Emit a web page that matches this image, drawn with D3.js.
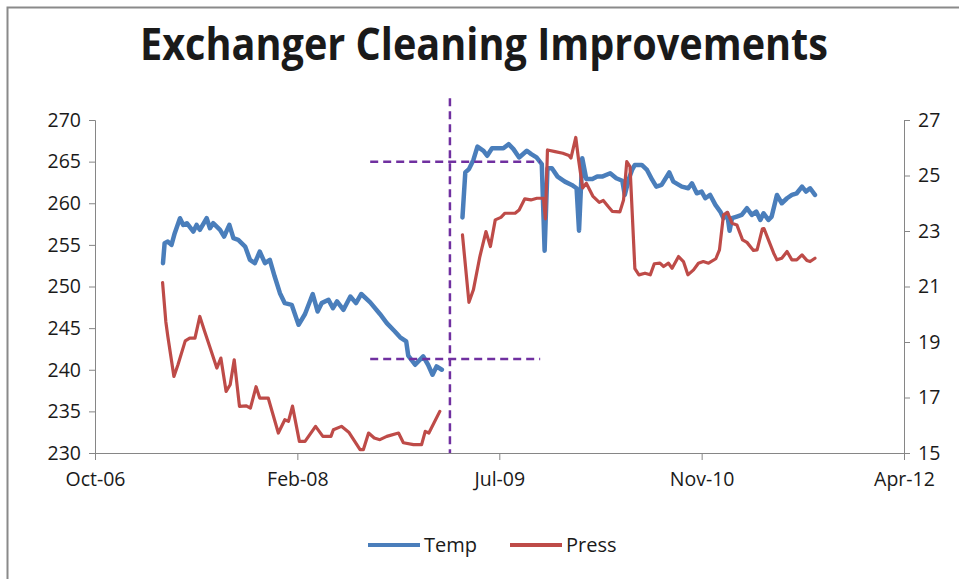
<!DOCTYPE html>
<html>
<head>
<meta charset="utf-8">
<script src="https://cdn.jsdelivr.net/npm/d3@7"></script>
<style>
  body { margin: 0; background: #fff; }
  text { font-family: 'Open Sans', sans-serif; fill: #1a1a1a; }
</style>
</head>
<body>
<div id="chart"></div>
<script>
// Data
const tempBefore = [
  ['2007-03-28', 252.8], ['2007-04-01', 255.2], ['2007-04-09', 255.4], ['2007-04-18', 255.0],
  ['2007-04-26', 256.4], ['2007-05-09', 258.2], ['2007-05-17', 257.4], ['2007-05-26', 257.6],
  ['2007-06-11', 256.6], ['2007-06-19', 257.4], ['2007-06-27', 256.8], ['2007-07-14', 258.2],
  ['2007-07-22', 257.0], ['2007-07-30', 257.6], ['2007-08-16', 256.8], ['2007-08-26', 256.0],
  ['2007-09-08', 257.4], ['2007-09-18', 255.8], ['2007-09-30', 255.6], ['2007-10-17', 254.8],
  ['2007-10-29', 253.2], ['2007-11-10', 252.8], ['2007-11-22', 254.2], ['2007-12-05', 252.8],
  ['2007-12-17', 253.2], ['2007-12-29', 251.2], ['2008-01-11', 249.2], ['2008-01-23', 248.0],
  ['2008-02-09', 247.8], ['2008-02-26', 245.4], ['2008-03-13', 246.7], ['2008-04-01', 249.1],
  ['2008-04-13', 247.0], ['2008-04-23', 248.0], ['2008-05-10', 248.4], ['2008-05-21', 247.4],
  ['2008-05-31', 248.2], ['2008-06-16', 247.2], ['2008-07-03', 248.8], ['2008-07-17', 248.0],
  ['2008-07-30', 249.1], ['2008-08-21', 248.1], ['2008-09-14', 246.7], ['2008-10-01', 245.6],
  ['2008-10-21', 244.6], ['2008-11-03', 243.9], ['2008-11-18', 243.4], ['2008-11-23', 241.7],
  ['2008-12-10', 240.6], ['2008-12-30', 241.6], ['2009-01-11', 240.6], ['2009-01-22', 239.4],
  ['2009-02-01', 240.4], ['2009-02-14', 240.0]
]
const tempAfter = [
  ['2009-04-06', 258.3], ['2009-04-13', 263.7], ['2009-04-22', 264.1], ['2009-05-03', 265.2],
  ['2009-05-13', 266.8], ['2009-05-28', 266.3], ['2009-06-06', 265.7], ['2009-06-18', 266.6],
  ['2009-07-04', 266.6], ['2009-07-16', 266.6], ['2009-07-29', 267.1], ['2009-08-10', 266.5],
  ['2009-08-24', 265.5], ['2009-09-12', 266.3], ['2009-09-23', 265.9], ['2009-10-06', 265.5],
  ['2009-10-19', 264.7], ['2009-10-26', 254.3], ['2009-11-02', 264.2], ['2009-11-13', 264.2],
  ['2009-11-27', 263.2], ['2009-12-15', 262.6], ['2010-01-01', 262.2], ['2010-01-13', 261.8],
  ['2010-01-19', 256.7], ['2010-01-27', 265.4], ['2010-02-06', 262.9], ['2010-02-21', 262.9],
  ['2010-03-05', 263.2], ['2010-03-17', 263.2], ['2010-04-06', 263.6], ['2010-04-21', 263.0],
  ['2010-05-06', 262.7], ['2010-05-12', 261.0], ['2010-05-22', 262.9], ['2010-05-30', 264.0],
  ['2010-06-06', 264.6], ['2010-06-23', 264.6], ['2010-07-06', 264.0], ['2010-07-19', 262.8],
  ['2010-07-29', 262.0], ['2010-08-11', 262.2], ['2010-08-30', 263.7], ['2010-09-09', 262.6],
  ['2010-09-30', 262.0], ['2010-10-16', 261.8], ['2010-10-25', 262.4], ['2010-11-06', 261.2],
  ['2010-11-18', 261.4], ['2010-11-27', 260.6], ['2010-12-09', 261.0], ['2010-12-22', 259.8],
  ['2011-01-03', 259.0], ['2011-01-11', 258.2], ['2011-01-20', 258.8], ['2011-01-26', 256.7],
  ['2011-02-01', 258.2], ['2011-02-13', 258.4], ['2011-02-25', 258.6], ['2011-03-10', 259.4],
  ['2011-03-22', 258.6], ['2011-04-02', 259.0], ['2011-04-12', 258.0], ['2011-04-20', 258.8],
  ['2011-05-02', 258.0], ['2011-05-10', 258.4], ['2011-05-23', 261.0], ['2011-06-04', 260.0],
  ['2011-06-17', 260.6], ['2011-06-29', 261.0], ['2011-07-11', 261.2], ['2011-07-24', 262.0],
  ['2011-08-03', 261.4], ['2011-08-13', 261.8], ['2011-08-25', 261.0]
]
const pressBefore = [
  ['2007-03-27', 21.14], ['2007-04-04', 19.73], ['2007-04-09', 19.20], ['2007-04-24', 17.76],
  ['2007-05-04', 18.18], ['2007-05-22', 19.04], ['2007-06-02', 19.14], ['2007-06-15', 19.14],
  ['2007-06-27', 19.92], ['2007-07-09', 19.38], ['2007-07-22', 18.81], ['2007-08-08', 18.06],
  ['2007-08-18', 18.42], ['2007-08-31', 17.22], ['2007-09-10', 17.46], ['2007-09-20', 18.36],
  ['2007-10-03', 16.68], ['2007-10-20', 16.70], ['2007-10-30', 16.62], ['2007-11-13', 17.39],
  ['2007-11-22', 16.98], ['2007-12-13', 16.98], ['2008-01-07', 15.72], ['2008-01-23', 16.20],
  ['2008-02-01', 16.14], ['2008-02-11', 16.69], ['2008-02-28', 15.42], ['2008-03-13', 15.42],
  ['2008-04-08', 15.96], ['2008-04-26', 15.60], ['2008-05-16', 15.60], ['2008-05-22', 15.84],
  ['2008-06-11', 15.96], ['2008-06-29', 15.75], ['2008-07-27', 15.12], ['2008-08-04', 15.12],
  ['2008-08-17', 15.72], ['2008-08-31', 15.54], ['2008-09-14', 15.48], ['2008-10-01', 15.60],
  ['2008-10-30', 15.72], ['2008-11-11', 15.37], ['2008-12-06', 15.30], ['2008-12-26', 15.30],
  ['2009-01-04', 15.78], ['2009-01-13', 15.72], ['2009-02-09', 16.50]
]
const pressAfter = [
  ['2009-04-06', 22.86], ['2009-04-22', 20.43], ['2009-05-03', 20.88], ['2009-05-19', 22.08],
  ['2009-06-03', 22.98], ['2009-06-14', 22.44], ['2009-06-26', 23.40], ['2009-07-10', 23.49],
  ['2009-07-20', 23.64], ['2009-08-14', 23.64], ['2009-08-24', 23.76], ['2009-09-07', 24.16],
  ['2009-09-22', 24.12], ['2009-10-07', 24.18], ['2009-10-23', 24.18], ['2009-10-28', 23.44],
  ['2009-11-02', 25.92], ['2009-11-21', 25.86], ['2009-12-10', 25.80], ['2009-12-25', 25.72],
  ['2009-12-30', 25.63], ['2010-01-11', 26.37], ['2010-01-18', 25.56], ['2010-01-28', 24.55],
  ['2010-02-06', 24.72], ['2010-02-22', 24.26], ['2010-03-10', 24.03], ['2010-03-20', 24.10],
  ['2010-03-31', 23.90], ['2010-04-11', 23.71], ['2010-04-30', 23.69], ['2010-05-09', 24.12],
  ['2010-05-17', 25.50], ['2010-05-25', 25.32], ['2010-06-06', 21.64], ['2010-06-16', 21.42],
  ['2010-07-01', 21.48], ['2010-07-14', 21.42], ['2010-07-24', 21.82], ['2010-08-07', 21.84],
  ['2010-08-16', 21.72], ['2010-08-28', 21.84], ['2010-09-06', 21.66], ['2010-09-22', 22.08],
  ['2010-10-04', 21.90], ['2010-10-15', 21.42], ['2010-10-29', 21.60], ['2010-11-10', 21.84],
  ['2010-11-22', 21.90], ['2010-12-05', 21.84], ['2010-12-23', 22.00], ['2011-01-01', 22.32],
  ['2011-01-11', 23.58], ['2011-01-21', 23.67], ['2011-02-01', 23.28], ['2011-02-13', 23.22],
  ['2011-02-27', 22.68], ['2011-03-10', 22.59], ['2011-03-26', 22.30], ['2011-04-04', 22.32],
  ['2011-04-17', 23.08], ['2011-04-21', 23.09], ['2011-05-02', 22.68], ['2011-05-15', 22.20],
  ['2011-05-23', 21.96], ['2011-06-04', 22.02], ['2011-06-17', 22.26], ['2011-06-29', 21.96],
  ['2011-07-11', 21.96], ['2011-07-24', 22.14], ['2011-08-05', 21.94], ['2011-08-13', 21.90],
  ['2011-08-25', 22.02]
]

// axes (excel date axis: 2000 days, a tick every 500 days)
const xDomain = ['2006-10-11', '2012-04-01']
const xTicks = ['2006-10-11', '2008-02-23', '2009-07-06', '2010-11-18', '2012-04-01']
const tempTicks = [230, 235, 240, 245, 250, 255, 260, 265, 270]
const pressTicks = [15, 17, 19, 21, 23, 25, 27]

// purple dashed markers drawn over the chart (in Temp units)
const cleaningDate = '2009-03-06'
const cleaningTop = 272.6
const bandStart = '2008-08-21'
const bandEnd = '2009-10-15'
const bandLevels = [265, 241.3]

const legendItems = [
  { name: 'Temp', color: '#4a7ebb' },
  { name: 'Press', color: '#be4b48' }
]

// Dimensions
const dimensions = {
  width: 959,
  height: 579,
  left: 95,
  right: 904,
  top: 120,
  bottom: 453
}

const parseDate = d3.utcParse('%Y-%m-%d')

const svg = d3.select('#chart')
  .append('svg')
  .attr('width', dimensions.width)
  .attr('height', dimensions.height)

// outer chart frame
svg.append('rect')
  .attr('x', 7.5)
  .attr('y', 7.5)
  .attr('width', 1000)
  .attr('height', 1000)
  .attr('fill', 'none')
  .attr('stroke', '#8a8a8a')
  .attr('stroke-width', 2)

// Scales
const xScale = d3.scaleUtc()
  .domain(xDomain.map(parseDate))
  .range([dimensions.left, dimensions.right])

const tempScale = d3.scaleLinear()
  .domain([230, 270])
  .range([dimensions.bottom, dimensions.top])

const pressScale = d3.scaleLinear()
  .domain([15, 27])
  .range([dimensions.bottom, dimensions.top])

// Axes
const styleAxis = size => g => {
  g.select('.domain').attr('stroke', '#868686')
  g.selectAll('.tick line').attr('stroke', '#868686')
  g.selectAll('.tick text')
    .style('font-size', size)
    .attr('fill', '#1a1a1a')
}

svg.append('g')
  .attr('transform', `translate(${dimensions.left},0)`)
  .call(d3.axisLeft(tempScale).tickValues(tempTicks).tickSizeOuter(0).tickSize(6).tickPadding(8))
  .call(styleAxis('19.5px'))

svg.append('g')
  .attr('transform', `translate(${dimensions.right},0)`)
  .call(d3.axisRight(pressScale).tickValues(pressTicks).tickSizeOuter(0).tickSize(6).tickPadding(8))
  .call(styleAxis('19.5px'))

svg.append('g')
  .attr('transform', `translate(0,${dimensions.bottom})`)
  .call(d3.axisBottom(xScale)
    .tickValues(xTicks.map(parseDate))
    .tickFormat(d3.utcFormat('%b-%y'))
    .tickSizeOuter(0).tickSize(7).tickPadding(12))
  .call(styleAxis('19.5px'))

// Title
svg.append('text')
  .attr('x', 484)
  .attr('y', 60)
  .attr('text-anchor', 'middle')
  .attr('textLength', 688)
  .attr('lengthAdjust', 'spacingAndGlyphs')
  .style('font-size', '44px')
  .style('font-weight', 'bold')
  .attr('fill', '#000')
  .text('Exchanger Cleaning Improvements')

// Lines
const tempLine = d3.line()
  .x(d => xScale(parseDate(d[0])))
  .y(d => tempScale(d[1]))

const pressLine = d3.line()
  .x(d => xScale(parseDate(d[0])))
  .y(d => pressScale(d[1]))

const lines = svg.append('g')

;[pressBefore, pressAfter].forEach(seg => {
  lines.append('path')
    .datum(seg)
    .attr('d', pressLine)
    .attr('fill', 'none')
    .attr('stroke', legendItems[1].color)
    .attr('stroke-width', 3.2)
    .attr('stroke-linejoin', 'round')
    .attr('stroke-linecap', 'round')
})

;[tempBefore, tempAfter].forEach(seg => {
  lines.insert('path', ':first-child')
    .datum(seg)
    .attr('d', tempLine)
    .attr('fill', 'none')
    .attr('stroke', legendItems[0].color)
    .attr('stroke-width', 4.5)
    .attr('stroke-linejoin', 'round')
    .attr('stroke-linecap', 'round')
})

// Dashed markers
const markers = svg.append('g')
  .attr('stroke', '#7030a0')
  .attr('stroke-width', 2.5)
  .attr('stroke-dasharray', '8,5')

markers.append('line')
  .attr('x1', xScale(parseDate(cleaningDate)))
  .attr('x2', xScale(parseDate(cleaningDate)))
  .attr('y1', tempScale(cleaningTop))
  .attr('y2', tempScale(230))

markers.selectAll('.band')
  .data(bandLevels)
  .join('line')
  .attr('class', 'band')
  .attr('x1', xScale(parseDate(bandStart)))
  .attr('x2', xScale(parseDate(bandEnd)))
  .attr('y1', d => tempScale(d))
  .attr('y2', d => tempScale(d))

// Legend
const legend = svg.append('g')
  .attr('transform', 'translate(368,545)')

const legendOffsets = [0, 142]
legendItems.forEach((item, i) => {
  const g = legend.append('g').attr('transform', `translate(${legendOffsets[i]},0)`)
  g.append('line')
    .attr('x1', 0).attr('x2', 52)
    .attr('stroke', item.color)
    .attr('stroke-width', 4)
  g.append('text')
    .attr('x', 56)
    .attr('dy', '0.35em')
    .style('font-size', '20px')
    .text(item.name)
})
</script>
</body>
</html>
